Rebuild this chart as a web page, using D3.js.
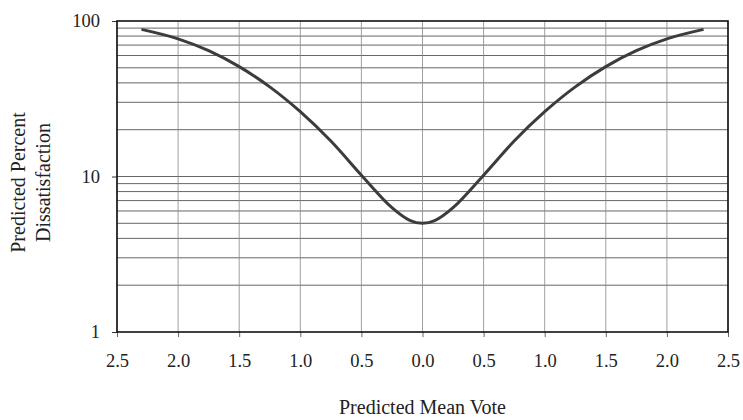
<!DOCTYPE html>
<html>
<head>
<meta charset="utf-8">
<script src="https://cdn.jsdelivr.net/npm/d3@7"></script>
<style>
  body { margin: 0; background: #fff; }
  text { font-family: "Liberation Serif", "Times New Roman", serif; fill: #222; }
</style>
</head>
<body>
<div id="chart"></div>
<script>
// values
var pmv = [-2.3, -2.0, -1.75, -1.5, -1.25, -1.0, -0.75, -0.5, -0.25, -0.1, 0,
           0.1, 0.25, 0.5, 0.75, 1.0, 1.25, 1.5, 1.75, 2.0, 2.3]
var ppd = [88.3, 76.8, 64.4, 50.9, 37.7, 26.1, 16.9, 10.2, 6.3, 5.2, 5.0,
           5.2, 6.3, 10.2, 16.9, 26.1, 37.7, 50.9, 64.4, 76.8, 88.3]
var xTicks = [-2.5, -2.0, -1.5, -1.0, -0.5, 0, 0.5, 1.0, 1.5, 2.0, 2.5]
var yTicks = [1, 10, 100]
var yGrid = [2, 3, 4, 5, 6, 7, 8, 9, 10, 20, 30, 40, 50, 60, 70, 80, 90]

var data = pmv.map(function(d, i) { return {x: d, y: ppd[i]}; });

var margin = {top: 21, right: 15, bottom: 88, left: 117},
    width = 743 - margin.left - margin.right,
    height = 420 - margin.top - margin.bottom;

var svg = d3.select("#chart")
  .append("svg")
    .attr("width", 743)
    .attr("height", 420)
  .append("g")
    .attr("transform", "translate(" + margin.left + "," + margin.top + ")");

var x = d3.scaleLinear().domain([-2.5, 2.5]).range([0, width]);
var y = d3.scaleLog().domain([1, 100]).range([height, 0]);

// horizontal grid
svg.selectAll("hgrid")
  .data(yGrid)
  .enter()
  .append("line")
    .attr("x1", 0)
    .attr("x2", width)
    .attr("y1", function(d) { return y(d); })
    .attr("y2", function(d) { return y(d); })
    .style("stroke", "#555")
    .style("stroke-width", "0.9px");

// vertical grid
svg.selectAll("vgrid")
  .data(xTicks)
  .enter()
  .append("line")
    .attr("x1", function(d) { return x(d); })
    .attr("x2", function(d) { return x(d); })
    .attr("y1", 0)
    .attr("y2", height)
    .style("stroke", "#888")
    .style("stroke-width", "0.8px");

// X axis
var xAxis = svg.append("g")
  .attr("transform", "translate(0," + height + ")")
  .call(d3.axisBottom(x).tickValues(xTicks).tickSize(5).tickPadding(17)
    .tickFormat(function(d) { return d3.format(".1f")(Math.abs(d)); }));
xAxis.select(".domain").remove();
xAxis.selectAll("line").style("stroke", "#666");
xAxis.selectAll("text").style("font-size", "18.5px").attr("font-family", null);

// Y axis
var yAxis = svg.append("g")
  .call(d3.axisLeft(y).tickValues(yTicks).tickSize(5).tickPadding(12)
    .tickFormat(d3.format("d")));
yAxis.select(".domain").remove();
yAxis.selectAll("line").style("stroke", "#333");
yAxis.selectAll("text").style("font-size", "18.5px").attr("font-family", null);

// frame
svg.append("rect")
  .attr("width", width)
  .attr("height", height)
  .style("fill", "none")
  .style("stroke", "#111")
  .style("stroke-width", "1.6px");

// curve
svg.append("path")
  .datum(data)
  .attr("d", d3.line()
    .x(function(d) { return x(d.x); })
    .y(function(d) { return y(d.y); })
    .curve(d3.curveCatmullRom))
  .style("fill", "none")
  .style("stroke", "#3c3c3c")
  .style("stroke-width", "3px");

// axis labels
svg.append("text")
  .attr("text-anchor", "middle")
  .attr("x", x(0))
  .attr("y", height + 82)
  .text("Predicted Mean Vote")
  .style("font-size", "20px");

var yl = svg.append("text")
  .attr("text-anchor", "middle")
  .attr("transform", "translate(" + (-92) + "," + (y(10) + 6) + ") rotate(-90)")
  .style("font-size", "20px");
yl.append("tspan").attr("x", 0).attr("dy", 0).text("Predicted Percent");
yl.append("tspan").attr("x", 0).attr("dy", 25).text("Dissatisfaction");
</script>
</body>
</html>
